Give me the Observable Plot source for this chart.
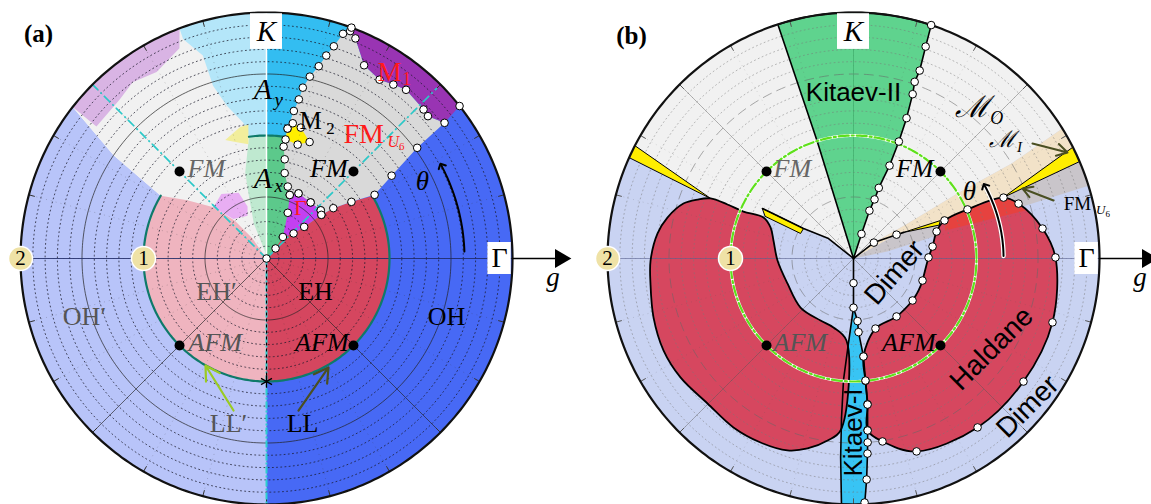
<!DOCTYPE html>
<html><head><meta charset="utf-8">
<script src="https://cdn.jsdelivr.net/npm/d3@7"></script>
<script src="https://cdn.jsdelivr.net/npm/@observablehq/plot@0.6"></script>
<style>
body{margin:0;background:#fff;}
#wrap{display:flex;width:1151px;height:504px;overflow:hidden;}
#wrap svg{overflow:visible;display:block;}
</style></head><body><div id="wrap"></div>
<script>
// ================= DATA : phase boundaries, angle θ (deg from Γ axis) and radius g =================
// ---- panel (a)
const ohpT=[149.3,149.3,146,142,270,270], ohpG=[0,1,1.5,2,2,0];            // OH′
const ohT=[-90,-90,38.3,38.3], ohG=[0,2,2,0];                                // OH
const fmlT=[90,90,142,146,149.3,149.3], fmlG=[0,2,2,1.5,1,0];                // FM (light)
const lavT=[110.7,112.5,120.5,127.2,132.7,142.2,142], lavG=[2,1.85,1.76,1.80,1.76,1.75,2];
const aylT=[90,90,110.7,110.8,107.4,107.2,104.5,99.7,98.2], aylG=[1,2,2,1.91,1.73,1.47,1.28,1.12,1];
const ayrT=[38.3,38.3,90,90], ayrG=[0,2,2,0];
const axrT=[38.3,38.3,90,90], axrG=[0,1,1,0];
const axlT=[90,90,98.2,103.9,105.5,110,100], axlG=[0,1,1,0.72,0.55,0.3,0.05];
const ehpT=[270,270,149.3,143.7,136,130,125,120], ehpG=[0,1,1,0.8,0.6,0.4,0.2,0];   // EH′
const vioT=[136,125,113,110,114,130], vioG=[0.6,0.64,0.58,0.45,0.38,0.42];
const ehT=[-90,-90,30.5,33.7,37,38.5,40,42.8,52.7,48,45], ehG=[0,1,1,0.83,0.68,0.57,0.40,0.30,0.22,0.11,0]; // EH
const fmuT=[69.8,71.2,72.4,73.6,74.8,76.6,78,78.5,79.5,80.8,81.3,79.6,78,73.5,69.9,63.8,51.8,41.6,38.5,37,33.7,30.5,33.5,36.3,37.3,41.4,43.5,50.4,53.9,57.7,63.2,68];
const fmuG=[1.97,1.93,1.81,1.72,1.62,1.52,1.42,1.32,1.22,1.07,0.92,0.82,0.71,0.61,0.55,0.59,0.58,0.59,0.57,0.68,0.83,1.02,1.22,1.52,1.82,1.75,1.76,1.78,1.75,1.72,1.76,1.93];
const m1T=[38.3,37.3,41.4,43.5,50.4,53.9,57.7,63.2,68,69.8,69.8], m1G=[2,1.82,1.75,1.76,1.78,1.75,1.72,1.76,1.93,1.97,2];
const gamT=[69.9,63.8,51.8,41.6,38.5,40,42.8,52.7,65], gamG=[0.55,0.59,0.58,0.59,0.57,0.40,0.30,0.22,0.41];
const m2T=[80.8,79,75.3,69.7,74.7,80.9], m2G=[1.07,1.12,1.10,1.01,0.96,0.98];
const ylT=[109.2,101.3,97.7,99,105], ylG=[1.02,1.09,1.10,0.94,0.98];
const mkAT=[...fmuT,...gamT,...m2T,48,45,69.8,38.3], mkAG=[...fmuG,...gamG,...m2G,0.11,0,2,2];

// ---- panel (b)
const moT=[90,38,33,32,31,31.9,153.4,157.2,156.8,156.9,155.5,151.2,149,141.3], moG=[0,0.21,0.5,1.0,1.5,2,2,1.261,1.115,0.973,0.804,0.844,0.474,0.26];
const beT=[40,38,33,32,31,31.9,26.9,22.2,23.3,22.7,27.5,29], beG=[0,0.21,0.5,1.0,1.5,2,2,1.316,1.009,0.802,0.46,0.40];
const fuT=[20,29,27.5,23.6,22.2,23.3,17.2,17.1,15.1,11.6], fuG=[0,0.40,0.46,0.77,1.316,2,2,1.46,0.62,0.28];
const k2T=[90,107.2,107.9,71.6,71.2,70.6,70.9,70.2,69.3,68.8,68.8,70.3,70.4,71.6,72], k2G=[0,1.0,2,2,1.82,1.62,1.52,1.42,1.22,1.02,0.81,0.61,0.51,0.41,0.21];
const k1T=[270,266.6,265.3,265.7,266.3,267.2,272.6,273.4,274.1,274.4,274.7,275.5,275.6,275.8,273.9,273.7], k1G=[0.40,0.69,0.99,1.30,1.62,2,2,1.80,1.59,1.50,1.40,1.19,1.00,0.80,0.60,0.51];
const hlT=[180.6,172.7,167.6,162.1,159.3,157.2,156.8,156.9,155.5,159.5,167.3,181.5,200.7,222.8,242,253.8,265.1,265.7,261.9,256.4,251,243.2,234.6,224.8,214.5,205.8,196.4,187];
const hlG=[1.65,1.606,1.549,1.453,1.356,1.261,1.115,0.973,0.804,0.72,0.667,0.618,0.574,0.587,0.571,0.584,0.669,1.402,1.494,1.589,1.65,1.676,1.685,1.673,1.707,1.716,1.695,1.663];
const hrT=[22.1,18.4,9.0,0.3,-17.8,-35.9,-53.7,-71.9,-81,-85.3,-84.5,-84.4,-84.2,-72.6,-53.4,-35.4,-17.7,0.8,8.6,18,22.7,23.3];
const hrG=[1.316,1.414,1.556,1.642,1.699,1.706,1.704,1.65,1.506,1.403,1.193,0.997,0.801,0.597,0.587,0.589,0.589,0.61,0.65,0.71,0.802,1.009];
const rbT=[22.7,23.3,22.1,18.4,15.6,16.9], rbG=[0.802,1.009,1.316,1.414,1.45,0.78];
const y1T=[22.2,26.9,23.3], y1G=[1.316,2,2];
const y2T=[27.5,23.6,21.5], y2G=[0.46,0.77,0.75];
const y3T=[157.2,152.7,155.7], y3G=[1.261,2,2];
const y4T=[151.2,149,154.7,154.5], y4G=[0.844,0.474,0.476,0.793];
const mkBT=[71.6,71.2,70.6,70.9,70.2,69.3,68.8,68.8,70.3,70.4,71.6,72,38,29,270,270,272.6,273.4,274.1,274.4,274.7,275.5,275.6,275.8,273.9,273.7,...hrT];
const mkBG=[2.0,1.82,1.62,1.52,1.42,1.22,1.02,0.81,0.61,0.51,0.41,0.21,0.21,0.40,0.2,0.4,1.986,1.80,1.59,1.50,1.40,1.19,1.0,0.80,0.60,0.51,...hrG];

// grid values
const dotRings=[0.1,0.2,0.3,0.4,0.6,0.7,0.8,0.9,1.1,1.2,1.3,1.4,1.6,1.7,1.8,1.9];
const mainRings=[0.5,1.5];
const spokes=[45,135,225,315];
const tickDeg=[0,15,30,45,60,75,90,105,120,135,150,165,180,195,210,225,240,255,270,285,300,315,330,345];
const specialPts=[45,135,225,315]; // FM / AFM points at g = 1

// ================= helpers =================
const D=Math.PI/180;
const P=(t,g)=>({x:g*Math.cos(t*D), y:g*Math.sin(t*D)});
function region(T,G){
  const out=[], n=T.length;
  for(let i=0;i<n;i++){
    const j=(i+1)%n; out.push(P(T[i],G[i]));
    if(G[i]===G[j] && G[i]>0 && Math.abs(T[j]-T[i])>2){
      const s=Math.ceil(Math.abs(T[j]-T[i]));
      for(let k=1;k<s;k++) out.push(P(T[i]+(T[j]-T[i])*k/s,G[i]));
    }
  }
  return out;
}
function arcPts(g,t0,t1){const n=Math.max(2,Math.ceil(Math.abs(t1-t0)));const o=[];for(let k=0;k<=n;k++)o.push(P(t0+(t1-t0)*k/n,g));return o;}
const pts=(T,G)=>T.map((t,i)=>P(t,G[i]));
const reg=(T,G,fill,o={})=>Plot.line(region(T,G),{x:"x",y:"y",fill,stroke:"none",curve:"linear-closed",...o});
const rings=(gs)=>gs.flatMap(g=>arcPts(g,0,360).map(p=>({...p,z:g})));
const spokeRows=(ds,g0,g1)=>ds.map(d=>{const a=P(d,g0),b=P(d,g1);return {x1:a.x,y1:a.y,x2:b.x,y2:b.y};});
const SERIF="Liberation Serif, Times New Roman, serif";
const SANS="Liberation Sans, Arial, sans-serif";
function T(x,y,text,o={}){return Plot.text([{x,y,text}],{x:"x",y:"y",text:"text",fontSize:o.s||26,fontFamily:o.f||SERIF,fontStyle:o.i?"italic":"normal",fontWeight:o.b?"bold":"normal",fill:o.c||"black",textAnchor:o.a||"middle",rotate:o.r||0});}
const box=(x1,x2,y1,y2)=>Plot.rect([{x1,x2,y1,y2}],{x1:"x1",x2:"x2",y1:"y1",y2:"y2",fill:"white"});
function common(){
  return [
    box(1.80,1.99,-0.13,0.13), T(1.895,0.0,"Γ",{s:28}),
    Plot.link([{x1:2.0,y1:0,x2:2.38,y2:0}],{x1:"x1",y1:"y1",x2:"x2",y2:"y2",stroke:"black",strokeWidth:1.6}),
    Plot.dot([{x:2.39,y:0}],{x:"x",y:"y",symbol:"triangle",r:7,fill:"black",rotate:90}),
    T(2.33,-0.15,"g",{i:true,s:27}),
    Plot.dot([P(180,1),P(180,2)],{x:"x",y:"y",r:12,fill:"#efe2a6",stroke:"white",strokeWidth:1.5}),
    T(-1,0,"1",{s:21}), T(-2,0,"2",{s:21}),
    box(-0.13,0.13,1.70,1.99), T(0,1.846,"K",{i:true,s:29})
  ];
}
function panel(width,cx,marks){
  return Plot.plot({width,height:504,margin:0,
    x:{domain:[-2,2],range:[cx-246,cx+246],axis:null},
    y:{domain:[-2,2],range:[504,12],axis:null},
    style:{background:"transparent",overflow:"visible"},marks});
}

// ================= panel (a) =================
const marksA=[
  reg(ohpT,ohpG,"#b8c4f9"), reg(ohT,ohG,"#4769f5"), reg(fmlT,fmlG,"#f1f1f1"),
  reg(lavT,lavG,"#d9b4e4"), reg(aylT,aylG,"#b4e6f9"), reg(ayrT,ayrG,"#33bdf1"),
  reg(axrT,axrG,"#5cc98b"), reg(axlT,axlG,"#bfe9d0"), reg(ehpT,ehpG,"#efb4bf"),
  reg(vioT,vioG,"#e8aef3"), reg(ehT,ehG,"#d5465f"), reg(fmuT,fmuG,"#d9d9d9"),
  reg(m1T,m1G,"#9934b3"), reg(gamT,gamG,"#c340f1"), reg(m2T,m2G,"#ffef00"), reg(ylT,ylG,"#f2ee9c"),
  // grid
  Plot.line(rings(dotRings),{x:"x",y:"y",z:"z",stroke:"#1a1a2a",strokeOpacity:0.75,strokeWidth:1,strokeDasharray:"1,3.2"}),
  Plot.line(rings(mainRings),{x:"x",y:"y",z:"z",stroke:"#222",strokeOpacity:0.7,strokeWidth:1}),
  Plot.link(spokeRows([225,315],0,2),{x1:"x1",y1:"y1",x2:"x2",y2:"y2",stroke:"#222",strokeOpacity:0.7,strokeWidth:0.9}),
  Plot.link(spokeRows(tickDeg,0.1,2),{x1:"x1",y1:"y1",x2:"x2",y2:"y2",stroke:"#333",strokeOpacity:0.25,strokeDasharray:"1,4"}),
  Plot.link(spokeRows(tickDeg,1.95,2),{x1:"x1",y1:"y1",x2:"x2",y2:"y2",stroke:"#333",strokeWidth:1}),
  Plot.link([{x1:-2,y1:0,x2:2,y2:0}],{x1:"x1",y1:"y1",x2:"x2",y2:"y2",stroke:"#1f2a66",strokeOpacity:0.85,strokeWidth:1}),
  // g = 1 boundary
  Plot.line(arcPts(1,30.5,-210.7),{x:"x",y:"y",stroke:"#0e7a6a",strokeWidth:2.2}),
  Plot.line(arcPts(1,81.3,98.2),{x:"x",y:"y",stroke:"#0e7a6a",strokeWidth:2.2}),
  // special lines
  Plot.link([{x1:0,y1:0,x2:0,y2:2}],{x1:"x1",y1:"y1",x2:"x2",y2:"y2",stroke:"white",strokeWidth:1.5}),
  Plot.link([{x1:0,y1:0,x2:0,y2:-2}],{x1:"x1",y1:"y1",x2:"x2",y2:"y2",stroke:"#2ccfd0",strokeWidth:2,strokeDasharray:"7,2,2,2"}),
  Plot.link([{x1:0,y1:0,x2:0,y2:-1}],{x1:"x1",y1:"y1",x2:"x2",y2:"y2",stroke:"black",strokeWidth:1,strokeDasharray:"3,3"}),
  Plot.link(spokeRows([135],0,2).concat(spokeRows([45],0,1.96)),{x1:"x1",y1:"y1",x2:"x2",y2:"y2",stroke:"#2bc8c8",strokeWidth:1.7,strokeDasharray:"9,3,2,3"}),
  Plot.line(arcPts(2,0,360),{x:"x",y:"y",stroke:"#111",strokeWidth:2.2}),
  // θ arrow
  Plot.line(arcPts(1.61,2,28),{x:"x",y:"y",stroke:"black",strokeWidth:2,markerEnd:"arrow"}),
  // boundary markers
  Plot.dot(pts(mkAT,mkAG),{x:"x",y:"y",r:3.8,fill:"white",stroke:"black",strokeWidth:1}),
  Plot.dot(specialPts.map(d=>P(d,1)),{x:"x",y:"y",r:5,fill:"black"}),
  Plot.dot([P(270,1)],{x:"x",y:"y",symbol:"asterisk",r:6,stroke:"black",strokeWidth:1.3}),
  Plot.arrow([{x1:-0.268,y1:-1.236,x2:-0.496,y2:-0.87}],{x1:"x1",y1:"y1",x2:"x2",y2:"y2",stroke:"#9acb22",strokeWidth:2.2,headLength:11}),
  Plot.arrow([{x1:0.26,y1:-1.236,x2:0.504,y2:-0.886}],{x1:"x1",y1:"y1",x2:"x2",y2:"y2",stroke:"#4a4f22",strokeWidth:2.2,headLength:11}),
  // labels
  T(-1.854,1.829,"(a)",{b:true,s:25}),
  T(-0.03,1.374,"A",{i:true,s:30}), T(0.10,1.29,"y",{i:true,s:19}),
  T(-0.03,0.65,"A",{i:true,s:30}), T(0.10,0.59,"x",{i:true,s:19}),
  T(0.358,1.114,"M",{s:25}), T(0.52,1.06,"2",{s:17}),
  T(0.79,1.016,"FM",{s:28,c:"#ff1a1a"}), T(1.03,0.95,"U",{s:16,i:true,c:"#ff1a1a"}), T(1.1,0.912,"6",{s:11,c:"#ff1a1a"}),
  T(1.0,1.512,"M",{s:27,c:"#ff1a1a"}), T(1.14,1.455,"1",{s:18,c:"#ff1a1a"}),
  T(0.276,0.407,"Γ",{s:22,c:"#ff1a1a"}),
  T(0.659,0.732,"FM",{i:true,a:"end"}), T(-0.642,0.732,"FM",{i:true,a:"start",c:"#666"}),
  T(1.268,0.626,"θ",{i:true,s:27}),
  T(-0.407,-0.268,"EH′",{c:"#555"}), T(0.398,-0.268,"EH"),
  T(-1.48,-0.472,"OH′",{c:"#555"}), T(1.463,-0.472,"OH"),
  T(-0.634,-0.683,"AFM",{i:true,a:"start",c:"#555"}), T(0.667,-0.683,"AFM",{i:true,a:"end"}),
  T(-0.309,-1.341,"LL′",{c:"#555"}), T(0.293,-1.341,"LL"),
  ...common()
];

// ================= panel (b) =================
const marksB=[
  Plot.line(arcPts(2,0,360),{x:"x",y:"y",fill:"#c9d3f2",stroke:"none",curve:"linear-closed"}),
  reg(moT,moG,"#f1f1f1"), reg(beT,beG,"#f2e2c8"), reg(fuT,fuG,"#c9c5ca"),
  reg(k2T,k2G,"#5fd38e"), reg(k1T,k1G,"#38c4f4"),
  reg(hlT,hlG,"#d6475f",{curve:"catmull-rom-closed"}), reg(hrT,hrG,"#d6475f",{curve:"catmull-rom-closed"}),
  reg(rbT,rbG,"#e8413c",{fillOpacity:0.9}),
  // grid
  Plot.line(rings(dotRings),{x:"x",y:"y",z:"z",stroke:"#777",strokeOpacity:0.5,strokeWidth:1,strokeDasharray:"1,3.2"}),
  Plot.line(rings(mainRings),{x:"x",y:"y",z:"z",stroke:"#666",strokeOpacity:0.55,strokeWidth:1,strokeDasharray:"9,6"}),
  Plot.link(spokeRows(spokes,0,2),{x1:"x1",y1:"y1",x2:"x2",y2:"y2",stroke:"#555",strokeOpacity:0.4,strokeWidth:1}),
  Plot.link(spokeRows(tickDeg,0.1,2),{x1:"x1",y1:"y1",x2:"x2",y2:"y2",stroke:"#555",strokeOpacity:0.2,strokeDasharray:"1,4"}),
  Plot.link(spokeRows(tickDeg,1.95,2),{x1:"x1",y1:"y1",x2:"x2",y2:"y2",stroke:"#555",strokeWidth:1}),
  Plot.link([{x1:-2,y1:0,x2:2,y2:0}],{x1:"x1",y1:"y1",x2:"x2",y2:"y2",stroke:"#5a6290",strokeOpacity:0.6,strokeWidth:1}),
  Plot.link([{x1:0,y1:0.05,x2:0,y2:2}],{x1:"x1",y1:"y1",x2:"x2",y2:"y2",stroke:"#3aa866",strokeOpacity:0.6,strokeWidth:1}),
  // outlines
  reg(y1T,y1G,"#ffee00",{stroke:"black",strokeWidth:1}), reg(y2T,y2G,"#ffee00",{stroke:"black",strokeWidth:1}),
  reg(y3T,y3G,"#ffee00",{stroke:"black",strokeWidth:1}), reg(y4T,y4G,"#ffee00",{stroke:"black",strokeWidth:1}),
  Plot.line(region(k2T,k2G),{x:"x",y:"y",stroke:"black",strokeWidth:1.6,curve:"linear-closed"}),
  Plot.line(region(k1T,k1G),{x:"x",y:"y",stroke:"black",strokeWidth:1.6,curve:"linear-closed"}),
  Plot.line(region(hlT,hlG),{x:"x",y:"y",stroke:"black",strokeWidth:1.8,curve:"catmull-rom-closed"}),
  Plot.line(region(hrT,hrG),{x:"x",y:"y",stroke:"black",strokeWidth:1.8,curve:"catmull-rom-closed"}),
  Plot.line(pts([0,38,29,27.5],[0,0.21,0.40,0.46]),{x:"x",y:"y",stroke:"black",strokeWidth:1.6}),
  Plot.line(pts([151.2,149,141.3,0],[0.844,0.474,0.26,0]),{x:"x",y:"y",stroke:"black",strokeWidth:1.6}),
  Plot.line(pts([270,270],[0,0.4]),{x:"x",y:"y",stroke:"black",strokeWidth:1.6}),
  // g = 1 dash-dot circle
  Plot.line(arcPts(1,0,360),{x:"x",y:"y",stroke:"white",strokeWidth:3}),
  Plot.line(arcPts(1,0,360),{x:"x",y:"y",stroke:"#5fe01c",strokeWidth:2.2,strokeDasharray:"10,3,2,3"}),
  Plot.line(arcPts(2,0,360),{x:"x",y:"y",stroke:"#111",strokeWidth:2.2}),
  // θ arrow
  Plot.line(arcPts(1.22,1,29),{x:"x",y:"y",stroke:"white",strokeWidth:4.5}),
  Plot.line(arcPts(1.22,1,29),{x:"x",y:"y",stroke:"black",strokeWidth:2,markerEnd:"arrow"}),
  Plot.dot(pts(mkBT,mkBG),{x:"x",y:"y",r:3.8,fill:"white",stroke:"black",strokeWidth:1}),
  Plot.dot(specialPts.map(d=>P(d,1)),{x:"x",y:"y",r:5,fill:"black"}),
  Plot.arrow([{x1:1.455,y1:0.935,x2:1.74,y2:0.862}],{x1:"x1",y1:"y1",x2:"x2",y2:"y2",stroke:"#4a4f22",strokeWidth:2,headLength:10}),
  Plot.arrow([{x1:1.626,y1:0.472,x2:1.374,y2:0.569}],{x1:"x1",y1:"y1",x2:"x2",y2:"y2",stroke:"#4a4f22",strokeWidth:2,headLength:10}),
  // labels
  T(-1.805,1.813,"(b)",{b:true,s:25}),
  T(0,1.35,"Kitaev-II",{f:SANS,s:26}),
  T(0.967,1.228,"ℳ",{f:"DejaVu Serif, serif",s:30,i:true}), T(1.165,1.14,"O",{i:true,s:18}),
  T(1.211,0.967,"ℳ",{f:"DejaVu Serif, serif",s:23,i:true}), T(1.35,0.905,"I",{i:true,s:15}),
  T(1.821,0.447,"FM",{s:19}), T(2.01,0.395,"U",{i:true,s:13}), T(2.068,0.36,"6",{s:9}),
  T(-0.65,0.732,"FM",{i:true,a:"start",c:"#666"}), T(0.65,0.732,"FM",{i:true,a:"end"}),
  T(0.943,0.545,"θ",{i:true,s:27}),
  T(-0.65,-0.683,"AFM",{i:true,a:"start",c:"#555"}), T(0.667,-0.683,"AFM",{i:true,a:"end"}),
  T(0.333,-0.114,"Dimer",{f:SANS,s:28,r:-49}),
  T(1.122,-0.732,"Haldane",{f:SANS,s:28,r:-45}),
  T(1.415,-1.203,"Dimer",{f:SANS,s:28,r:-45}),
  T(0,-1.415,"Kitaev-I",{f:SANS,s:26,r:-90}),
  ...common()
];

const wrap=document.getElementById("wrap");
wrap.appendChild(panel(580,266,marksA));
wrap.appendChild(panel(571,273,marksB));
</script></body></html>
